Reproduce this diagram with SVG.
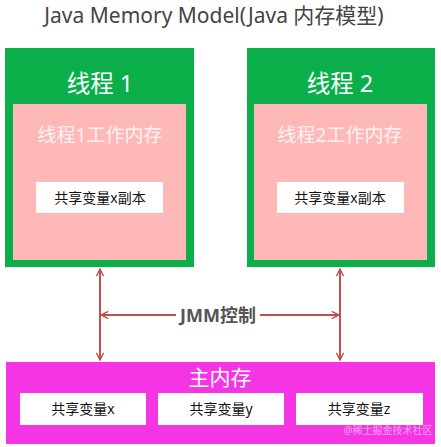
<svg xmlns="http://www.w3.org/2000/svg" width="441" height="447" viewBox="0 0 441 447">
<defs>
<style>
text{font-family:"Noto Sans","Noto Sans CJK SC",sans-serif;text-anchor:middle}
.title{font-size:21px;fill:#444}
.thread{font-size:23.5px;fill:#fff}
.work{font-size:19px;fill:#fff;fill-opacity:0.85}
.var{font-size:14px;fill:#111}
.green{fill:#0aaf4a}
.pink{fill:#ffb8b8}
.white{fill:#fff}
.conn{stroke:#c0504d;stroke-width:2;fill:none}
.jmm{font-size:18px;font-weight:bold;fill:#555}
</style>
<marker id="ah" viewBox="0 0 10 10" refX="9" refY="5" markerWidth="9" markerHeight="9" orient="auto-start-reverse" markerUnits="userSpaceOnUse">
<path d="M1,1 L9,5 L1,9" fill="none" stroke="#c0504d" stroke-width="1.6"/>
</marker>
</defs>
<rect width="441" height="447" fill="#fff"/>
<text class="title" x="214" y="23">Java Memory Model(Java 内存模型)</text>

<g id="thread1">
<rect class="green" x="5" y="48" width="189" height="219"/>
<text class="thread" x="100" y="92">线程 1</text>
<rect class="pink" x="13" y="104" width="173" height="156"/>
<text class="work" x="100" y="142">线程1工作内存</text>
<rect class="white" x="36" y="182" width="127" height="31"/>
<text class="var" x="100" y="203">共享变量x副本</text>
</g>

<g id="thread2">
<rect class="green" x="247" y="48" width="188" height="219"/>
<text class="thread" x="340" y="92">线程 2</text>
<rect class="pink" x="254" y="104" width="173" height="156"/>
<text class="work" x="340" y="142">线程2工作内存</text>
<rect class="white" x="277" y="182" width="127" height="31"/>
<text class="var" x="340" y="203">共享变量x副本</text>
</g>

<g id="main-memory">
<rect x="6" y="362" width="429" height="82" fill="#f535e3"/>
<text class="thread" x="220" y="385" style="font-size:21px">主内存</text>
<rect class="white" x="20" y="393" width="126" height="32"/>
<text class="var" x="83" y="414">共享变量x</text>
<rect class="white" x="158" y="393" width="126" height="32"/>
<text class="var" x="221" y="414">共享变量y</text>
<rect class="white" x="296" y="393" width="127" height="32"/>
<text class="var" x="359" y="414">共享变量z</text>
<text x="388" y="434" style="font-size:10px;fill:#fff;fill-opacity:0.55">@稀土掘金技术社区</text>
</g>

<g id="connectors">
<line class="conn" x1="100" y1="269" x2="100" y2="360" marker-start="url(#ah)" marker-end="url(#ah)"/>
<line class="conn" x1="340" y1="269" x2="340" y2="360" marker-start="url(#ah)" marker-end="url(#ah)"/>
<line class="conn" x1="101" y1="315" x2="176" y2="315" marker-start="url(#ah)"/>
<line class="conn" x1="260" y1="315" x2="339" y2="315" marker-end="url(#ah)"/>
<text class="jmm" x="218" y="322">JMM控制</text>
</g>
</svg>
